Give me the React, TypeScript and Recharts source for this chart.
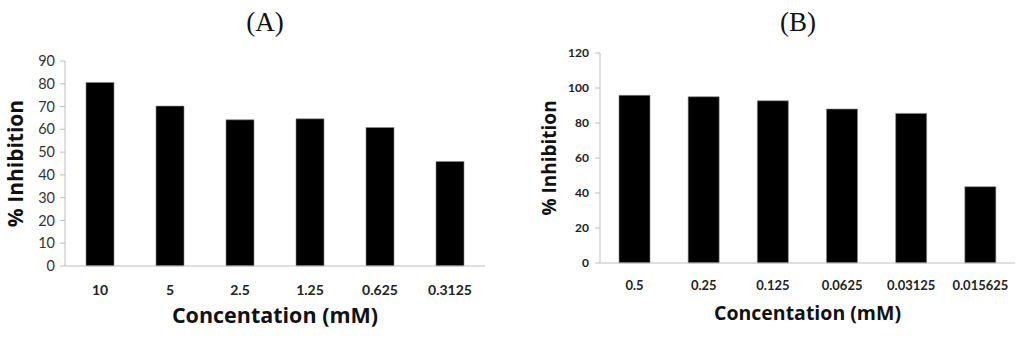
import { BarChart, Bar, XAxis, YAxis } from "recharts";

const concA = ["10", "5", "2.5", "1.25", "0.625", "0.3125"];
const inhibA = [80.6, 70.2, 64.2, 64.6, 60.8, 45.9];
const ticksA = [0, 10, 20, 30, 40, 50, 60, 70, 80, 90];

const concB = ["0.5", "0.25", "0.125", "0.0625", "0.03125", "0.015625"];
const inhibB = [95.8, 95.0, 92.7, 88.0, 85.5, 43.6];
const ticksB = [0, 20, 40, 60, 80, 100, 120];

const dataA = concA.map((c, i) => ({ name: c, value: inhibA[i] }));
const dataB = concB.map((c, i) => ({ name: c, value: inhibB[i] }));

const sans = "'Open Sans', Lato, sans-serif";
const tickFont = "Lato, 'Open Sans', sans-serif";
const axisGrey = "#bfbfbf";

const titleStyle: React.CSSProperties = {
  position: "absolute",
  top: 4,
  fontFamily: "'Liberation Serif', serif",
  fontSize: 27,
  lineHeight: "36px",
  color: "#111",
  textAlign: "center",
  width: 100
};

export default function App() {
  return (
    <div style={{ position: "absolute", left: 0, top: 0, width: 1024, height: 338, background: "#fff" }}>
      <div style={{ ...titleStyle, left: 265 - 50 }}>(A)</div>
      <div style={{ ...titleStyle, left: 798 - 50 }}>(B)</div>
      <div style={{ position: "absolute", left: 0, top: 0 }}>
        <BarChart
          width={512}
          height={338}
          data={dataA}
          margin={{ top: 61, right: 27, left: 0, bottom: 12 }}>
          <XAxis
            dataKey="name"
            height={60}
            tickLine={false}
            axisLine={{ stroke: axisGrey }}
            tickMargin={13}
            tick={{ fill: "#222", fontSize: 14, fontWeight: 700, fontFamily: tickFont }}
            label={{
              value: "Concentation (mM)",
              position: "insideBottom",
              offset: 3,
              style: { fill: "#111", fontSize: 21.5, fontWeight: 700, fontFamily: sans }
            }} />
          <YAxis
            width={65}
            domain={[0, 90]}
            ticks={ticksA}
            interval={0}
            tickSize={5}
            tickMargin={5}
            tickLine={{ stroke: axisGrey }}
            axisLine={{ stroke: axisGrey }}
            tick={{ fill: "#333", fontSize: 14.5, fontFamily: tickFont }}
            label={{
              value: "% Inhibition",
              angle: -90,
              position: "insideLeft",
              offset: 16,
              style: { textAnchor: "middle", fill: "#111", fontSize: 21, fontWeight: 700, fontFamily: sans }
            }} />
          <Bar dataKey="value" fill="#000" stroke="#888" strokeWidth={0.6} barSize={28} isAnimationActive={false} />
        </BarChart>
      </div>
      <div style={{ position: "absolute", left: 512, top: 0 }}>
        <BarChart
          width={512}
          height={338}
          data={dataB}
          margin={{ top: 53, right: 9, left: 0, bottom: 15 }}>
          <XAxis
            dataKey="name"
            height={60}
            tickLine={false}
            axisLine={{ stroke: axisGrey }}
            tickMargin={12}
            tick={{ fill: "#222", fontSize: 13, fontWeight: 700, fontFamily: tickFont }}
            label={{
              value: "Concentation (mM)",
              position: "insideBottom",
              offset: 3,
              style: { fill: "#111", fontSize: 19.5, fontWeight: 700, fontFamily: sans }
            }} />
          <YAxis
            width={88}
            domain={[0, 120]}
            ticks={ticksB}
            interval={0}
            tickSize={5}
            tickMargin={6}
            tickLine={{ stroke: axisGrey }}
            axisLine={{ stroke: axisGrey }}
            tick={{ fill: "#222", fontSize: 12, fontWeight: 700, fontFamily: tickFont }}
            label={{
              value: "% Inhibition",
              angle: -90,
              position: "insideLeft",
              offset: 37,
              style: { textAnchor: "middle", fill: "#111", fontSize: 19, fontWeight: 700, fontFamily: sans }
            }} />
          <Bar dataKey="value" fill="#000" stroke="#888" strokeWidth={0.6} barSize={31} isAnimationActive={false} />
        </BarChart>
      </div>
    </div>);
}
